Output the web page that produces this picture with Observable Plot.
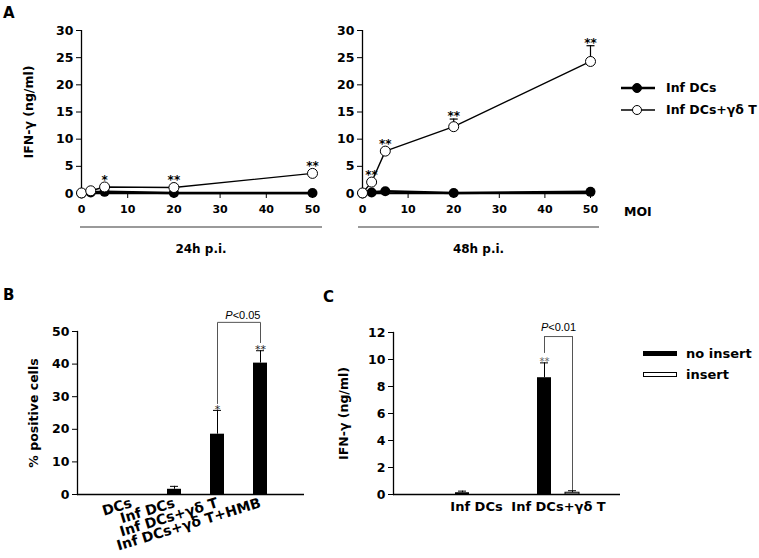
<!DOCTYPE html>
<html><head><meta charset="utf-8">
<script src="https://cdn.jsdelivr.net/npm/d3@7"></script>
<script src="https://cdn.jsdelivr.net/npm/@observablehq/plot@0.6"></script>
<style>
html,body{margin:0;padding:0;background:#fff;}
#fig{position:relative;width:759px;height:558px;overflow:hidden;background:#fff;font-family:"DejaVu Sans",sans-serif;font-weight:bold;color:#000;}
#fig > *{position:absolute;}
.lbl{white-space:nowrap;line-height:1;}
</style></head><body><div id="fig"></div>
<script>
// ---------- data ----------
const moi = [0, 2, 5, 20, 50];
const moiTicks = [0, 10, 20, 30, 40, 50];
const ifnTicksA = [0, 5, 10, 15, 20, 25, 30];
const seriesA = ["Inf DCs", "Inf DCs+γδ T"];
const timeLabels = ["24h p.i.", "48h p.i."];
const infDC24 = [0.0, 0.2, 0.3, 0.1, 0.1];
const gdT24 = [0.1, 0.5, 1.2, 1.1, 3.7];
const gdT24Err = [0, 0, 0, 0, 0];
const gdT24Sig = ["", "", "*", "**", "**"];
const infDC48 = [0.0, 0.2, 0.4, 0.1, 0.3];
const gdT48 = [0.1, 2.1, 7.8, 12.3, 24.3];
const gdT48Err = [0, 0, 0, 1.4, 2.9];
const gdT48Sig = ["", "**", "**", "**", "**"];

const groupsB = ["DCs", "Inf DCs", "Inf DCs+γδ T", "Inf DCs+γδ T+HMB"];
const valuesB = [0, 1.6, 18.5, 40.3];
const errorsB = [0, 0.9, 7.3, 3.8];
const starsB = ["", "", "*", "**"];
const ticksB = [0, 10, 20, 30, 40, 50];
const bracketB = [
  {x: "Inf DCs+γδ T", y: 27.9}, {x: "Inf DCs+γδ T", y: 52.8},
  {x: "Inf DCs+γδ T+HMB", y: 52.8}, {x: "Inf DCs+γδ T+HMB", y: 46.6}
];
const sigB = [{to: "Inf DCs+γδ T+HMB", level: 52.8, label: "P<0.05"}];

const groupsC = ["Inf DCs", "Inf DCs+γδ T"];
const conditionsC = ["no insert", "insert"];
const noInsertC = [0.13, 8.65];
const noInsertErrC = [0.12, 1.1];
const insertC = [0, 0.13];
const insertErrC = [0, 0.15];
const starsC = ["", "**"];
const ticksC = [0, 2, 4, 6, 8, 10, 12];
const sigC = [{group: "Inf DCs+γδ T", left: 10.45, right: 0.3, level: 11.7, label: "P<0.01"}];

// ---------- helpers ----------
const fig = document.getElementById("fig");
function put(el, left, top) { el.style.left = left + "px"; el.style.top = top + "px"; fig.appendChild(el); return el; }
function label(text, left, top, size, extra = {}) {
  const d = document.createElement("div");
  d.className = "lbl"; d.textContent = text; d.style.fontSize = size + "px";
  Object.assign(d.style, extra);
  return put(d, left, top);
}
const baseStyle = {fontFamily: '"DejaVu Sans", sans-serif', fontWeight: "bold", fontSize: "12.5px", background: "transparent", color: "black", overflow: "visible"};
const capSymbol = {draw(ctx, size) { const r = Math.sqrt(size / Math.PI); ctx.moveTo(-r, 0); ctx.lineTo(r, 0); }};
function italicP(svg) {
  const ns = "http://www.w3.org/2000/svg";
  svg.querySelectorAll("text").forEach(t => {
    if (t.textContent.startsWith("P<") && !t.querySelector("tspan")) {
      const rest = t.textContent.slice(1);
      t.textContent = "";
      const a = document.createElementNS(ns, "tspan"); a.setAttribute("font-style", "italic"); a.textContent = "P";
      const b = document.createElementNS(ns, "tspan"); b.textContent = rest;
      t.append(a, b);
    }
  });
}

// ---------- panel A ----------
function panelA(inf, gd, gdErr, sig, o) {
  const infData = moi.map((m, i) => ({moi: m, v: inf[i]}));
  const gdData = moi.map((m, i) => ({moi: m, v: gd[i], e: gdErr[i], s: sig[i]}));
  const errData = gdData.filter(d => d.e > 0);
  const top = d => d.v + d.e;
  const marks = [
    Plot.axisY({ticks: ifnTicksA, tickSize: 5, tickPadding: 3, label: null, fontSize: 12.5}),
    Plot.axisX({ticks: moiTicks, tickSize: 5, tickPadding: 7, label: null, fontSize: 11}),
    Plot.ruleX([0], {strokeWidth: 1.3}),
    Plot.ruleY([0], {strokeWidth: 1.3}),
    Plot.line(infData, {x: "moi", y: "v", strokeWidth: 2.6}),
    Plot.dot(infData, {x: "moi", y: "v", r: 5, fill: "black"}),
    Plot.ruleX(errData, {x: "moi", y1: "v", y2: top, strokeWidth: 1.2}),
    Plot.dot(errData, {x: "moi", y: top, r: 4, symbol: capSymbol, fill: "none", stroke: "black", strokeWidth: 1.2}),
    Plot.line(gdData, {x: "moi", y: "v", strokeWidth: 1.4}),
    Plot.dot(gdData, {x: "moi", y: "v", r: 5, fill: "white", stroke: "black", strokeWidth: 1}),
    Plot.text(gdData.filter(d => d.s && !(d.e > 0)), {x: "moi", y: "v", text: "s", dy: -7, fontSize: 12, fill: "black"}),
    Plot.text(errData.filter(d => d.s), {x: "moi", y: top, text: "s", dy: -3, fontSize: 12, fill: "black"})
  ];
  if (o.yLabel) marks.push(Plot.text([o.yLabel], {frameAnchor: "left", textAnchor: "middle", rotate: -90, dx: -53, fontSize: 12.5}));
  return Plot.plot({
    width: o.width, height: 230, marginLeft: o.ml, marginRight: o.mr, marginTop: 30, marginBottom: 37,
    style: baseStyle, x: {domain: [0, 50]}, y: {domain: [0, 30]}, marks
  });
}
put(panelA(infDC24, gdT24, gdT24Err, gdT24Sig, {width: 330, ml: 81, mr: 18, yLabel: "IFN-γ (ng/ml)"}), 0, 0);
put(panelA(infDC48, gdT48, gdT48Err, gdT48Sig, {width: 290, ml: 32, mr: 30}), 330, 0);

// group brackets under the x axes
[[80, 242], [358, 241]].forEach(([l, w], i) => {
  const line = document.createElement("div");
  Object.assign(line.style, {width: w + "px", height: "0px", borderTop: "2px solid #9a9a9a"});
  put(line, l, 226);
  label(timeLabels[i], l, 243, 12, {width: w + "px", textAlign: "center"});
});
label("MOI", 624, 206, 12.5);

// legend A
seriesA.forEach((name, i) => {
  const ns = "http://www.w3.org/2000/svg";
  const s = document.createElementNS(ns, "svg");
  s.setAttribute("width", 36); s.setAttribute("height", 12);
  s.innerHTML = `<line x1="0" x2="34" y1="6" y2="6" stroke="black" stroke-width="${i ? 1.4 : 2.6}"/>` +
    `<circle cx="16" cy="6" r="4.5" fill="${i ? "white" : "black"}" stroke="black"/>`;
  put(s, 621, 82 + i * 22);
  label(name, 666, 82 + i * 22, 12.5);
});

// ---------- panel B ----------
(function () {
  const data = groupsB.map((g, i) => ({g, v: valuesB[i], e: errorsB[i], s: starsB[i]}));
  const errData = data.filter(d => d.e > 0);
  const top = d => d.v + d.e;
  const svg = Plot.plot({
    width: 330, height: 268, marginLeft: 77, marginRight: 26, marginTop: 41, marginBottom: 64,
    style: baseStyle,
    x: {domain: groupsB, range: [108, 282], paddingInner: 0.678, paddingOuter: 0.339},
    y: {domain: [0, 50]},
    marks: [
      Plot.barY(data, {x: "g", y: "v", fill: "black"}),
      Plot.ruleX(errData, {x: "g", y1: "v", y2: top, strokeWidth: 1}),
      Plot.tickY(errData, {x: "g", y: top, insetLeft: 3, insetRight: 3, strokeWidth: 1}),
      Plot.text(data.filter(d => d.s), {x: "g", y: top, text: "s", dy: -1, fontSize: 11, fontWeight: "normal", fill: "#222"}),
      Plot.line(bracketB, {x: "x", y: "y", stroke: "#555", strokeWidth: 1}),
      Plot.text(sigB, {x: "to", y: "level", text: "label", textAnchor: "end", dy: -7, fontSize: 11, fontWeight: "normal", fontFamily: '"Liberation Sans", sans-serif'}),
      Plot.axisY({ticks: ticksB, tickSize: 5, tickPadding: 3, label: null, fontSize: 12.5}),
      Plot.axisX({tickSize: 0, tickRotate: -17, tickPadding: 8, label: null, fontSize: 14}),
      Plot.frame({anchor: "left", strokeWidth: 1.3}),
      Plot.ruleY([0], {strokeWidth: 1.3}),
      Plot.text(["% positive cells"], {frameAnchor: "left", textAnchor: "middle", rotate: -90, dx: -44, fontSize: 12.5})
    ]
  });
  italicP(svg);
  put(svg, 0, 290);
})();

// ---------- panel C ----------
(function () {
  const dNo = groupsC.map((g, i) => ({g, c: conditionsC[0], v: noInsertC[i], e: noInsertErrC[i], s: starsC[i]}));
  const dIn = groupsC.map((g, i) => ({g, c: conditionsC[1], v: insertC[i], e: insertErrC[i]}));
  const top = d => d.v + d.e;
  const svg = Plot.plot({
    width: 300, height: 268, marginLeft: 63, marginRight: 10, marginTop: 42, marginBottom: 64,
    style: baseStyle,
    x: {domain: groupsC, range: [105, 269], paddingInner: 0.488, paddingOuter: 0.244},
    y: {domain: [0, 12]},
    marks: [
      Plot.barY(dNo, {x: "g", y: "v", fill: "black", insetRight: 28}),
      Plot.barY(dIn.filter(d => d.v > 0), {x: "g", y: "v", fill: "white", stroke: "black", strokeWidth: 1, insetLeft: 28}),
      Plot.ruleX(dNo.filter(d => d.e > 0), {x: "g", y1: "v", y2: top, dx: -14, strokeWidth: 1}),
      Plot.tickY(dNo.filter(d => d.e > 0), {x: "g", y: top, insetLeft: 3, insetRight: 31, strokeWidth: 1}),
      Plot.ruleX(dIn.filter(d => d.e > 0), {x: "g", y1: "v", y2: top, dx: 14, strokeWidth: 1}),
      Plot.tickY(dIn.filter(d => d.e > 0), {x: "g", y: top, insetLeft: 31, insetRight: 3, strokeWidth: 1}),
      Plot.text(dNo.filter(d => d.s), {x: "g", y: top, text: "s", dx: -14, dy: -1, fontSize: 10, fontWeight: "normal", fill: "#666"}),
      Plot.ruleX(sigC, {x: "group", y1: "left", y2: "level", dx: -14, stroke: "#555", strokeWidth: 1}),
      Plot.ruleX(sigC, {x: "group", y1: "right", y2: "level", dx: 14, stroke: "#555", strokeWidth: 1}),
      Plot.tickY(sigC, {x: "group", y: "level", insetLeft: 7, insetRight: 7, stroke: "#555", strokeWidth: 1}),
      Plot.text(sigC, {x: "group", y: "level", text: "label", dy: -9, fontSize: 11, fontWeight: "normal", fontFamily: '"Liberation Sans", sans-serif'}),
      Plot.axisY({ticks: ticksC, tickSize: 5, tickPadding: 3, label: null, fontSize: 12.5}),
      Plot.axisX({tickSize: 0, tickPadding: 7, label: null, fontSize: 13}),
      Plot.frame({anchor: "left", strokeWidth: 1.3}),
      Plot.ruleY([0], {strokeWidth: 1.3}),
      Plot.text(["IFN-γ (ng/ml)"], {frameAnchor: "left", textAnchor: "middle", rotate: -90, dx: -50, fontSize: 12.5})
    ]
  });
  italicP(svg);
  put(svg, 330, 290);
})();

// legend C
conditionsC.forEach((name, i) => {
  const sw = document.createElement("div");
  if (i === 0) Object.assign(sw.style, {width: "34px", height: "5px", background: "#000"});
  else Object.assign(sw.style, {width: "32px", height: "3px", background: "#fff", border: "1px solid #000"});
  put(sw, 643, 351 + i * 21);
  label(name, 686, 347 + i * 21, 13);
});

// panel letters
label("A", 3, 6, 15);
label("B", 3, 288, 15);
label("C", 323, 290, 15);
</script></body></html>
